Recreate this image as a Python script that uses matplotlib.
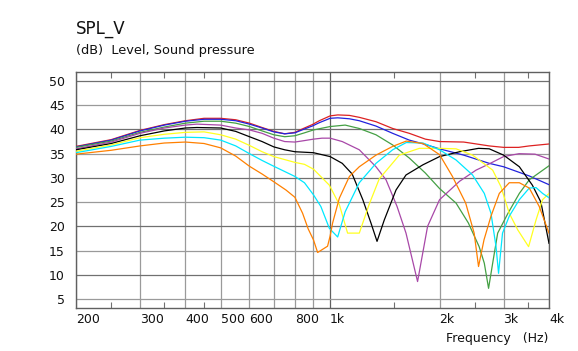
import matplotlib
matplotlib.use("Agg")
import matplotlib.pyplot as plt
from matplotlib.ticker import FixedLocator, NullFormatter

# ---- data (frequency in Hz, level in dB) ----
red_f = [200, 250, 300, 350, 400, 450, 500, 550, 600, 650, 700, 750, 800, 850, 893, 934, 1000, 1050,
         1130, 1203, 1337, 1486, 1651, 1828, 2000, 2330, 2740, 3000, 3300, 3530, 4000]
red_db = [36.5, 37.9, 39.8, 41.0, 41.8, 42.3, 42.3, 42.0, 41.3, 40.4, 39.6, 39.1, 39.4, 40.3, 41.0, 41.8, 42.8, 43.0,
          42.9, 42.5, 41.6, 40.2, 39.2, 38.0, 37.5, 37.4, 36.6, 36.3, 36.3, 36.6, 37.0]

blue_f = [200, 250, 300, 350, 400, 450, 500, 550, 600, 650, 700, 750, 800, 850, 893, 934, 1000, 1050,
          1130, 1203, 1337, 1486, 1651, 1828, 2000, 2330, 2740, 3000, 3530, 4000]
blue_db = [36.4, 37.8, 39.7, 40.9, 41.7, 42.1, 42.1, 41.8, 41.1, 40.3, 39.5, 39.1, 39.3, 40.1, 40.7, 41.4, 42.3, 42.4,
           42.2, 41.8, 40.7, 39.2, 37.8, 36.9, 36.0, 34.7, 33.0, 32.3, 30.4, 28.6]

green_f = [200, 250, 300, 350, 400, 450, 500, 550, 600, 650, 700, 750, 800, 850, 900, 1000, 1100, 1203,
           1337, 1486, 1651, 1828, 2000, 2220, 2400, 2570, 2655, 2728, 2800, 2890, 3085, 3315, 3530, 4000]
green_db = [36.3, 37.6, 39.4, 40.5, 41.3, 41.7, 41.7, 41.3, 40.6, 39.7, 38.9, 38.5, 38.7, 39.3, 39.9, 40.6, 40.9, 40.2,
            38.9, 36.8, 34.1, 31.0, 27.8, 24.8, 20.7, 15.8, 12.4, 7.2, 12.4, 18.6, 22.7, 26.8, 29.6, 32.5]

purple_f = [200, 250, 300, 350, 400, 430, 500, 550, 600, 650, 700, 750, 800, 850, 900, 950, 1000, 1080,
            1203, 1337, 1425, 1528, 1617, 1740, 1854, 2000, 2270, 2520, 2740, 3000, 3310, 3660, 4000]
purple_db = [36.0, 37.4, 39.2, 40.3, 40.9, 41.1, 40.9, 40.3, 39.9, 39.2, 38.2, 37.5, 37.4, 37.7, 38.0, 38.2, 38.2, 37.5,
             35.8, 32.3, 29.6, 24.1, 18.6, 8.6, 20.0, 25.5, 29.3, 31.6, 32.9, 34.4, 35.0, 34.9, 33.9]

black_f = [200, 250, 300, 350, 400, 430, 500, 550, 600, 650, 700, 750, 800, 900, 1000, 1080, 1150, 1230,
           1295, 1346, 1409, 1518, 1617, 1800, 2000, 2270, 2560, 2740, 3000, 3315, 3600, 3800, 4000]
black_db = [35.8, 37.1, 38.7, 39.7, 40.3, 40.4, 40.3, 39.6, 38.5, 37.5, 36.4, 35.8, 35.4, 35.2, 34.4, 33.0, 30.8, 25.5,
            20.7, 16.9, 21.3, 27.5, 30.6, 32.7, 34.4, 35.4, 36.1, 36.0, 34.7, 32.3, 28.5, 25.0, 16.5]

yellow_f = [200, 250, 300, 350, 400, 450, 500, 550, 600, 650, 700, 800, 850, 900, 995, 1060, 1117, 1203,
            1280, 1365, 1550, 1760, 2000, 2220, 2465, 2800, 2950, 3110, 3280, 3515, 3684, 3840, 4000]
yellow_db = [35.5, 36.8, 38.3, 39.0, 39.4, 39.5, 38.9, 38.0, 36.7, 35.4, 34.4, 33.2, 32.8, 31.8, 28.5, 24.5, 18.6, 18.6,
             24.5, 29.8, 34.7, 36.1, 36.1, 36.0, 34.7, 31.6, 28.2, 22.7, 19.3, 15.8, 21.3, 25.5, 26.8]

cyan_f = [200, 250, 300, 350, 400, 450, 500, 550, 600, 650, 700, 800, 850, 900, 943, 995, 1049, 1100,
          1203, 1337, 1486, 1620, 1800, 2000, 2220, 2465, 2655, 2770, 2860, 2906, 2980, 3110, 3315, 3530, 3684, 3840, 4000]
cyan_db = [35.2, 36.5, 37.8, 38.2, 38.4, 38.3, 37.8, 36.6, 35.0, 33.6, 32.4, 30.3, 29.0, 26.5, 24.1, 19.6, 17.8, 23.0,
           29.0, 33.0, 35.8, 37.3, 37.2, 35.8, 33.7, 30.6, 26.8, 22.7, 15.8, 10.3, 18.6, 22.1, 25.5, 27.9, 28.0, 26.8, 25.9]

orange_f = [200, 250, 300, 350, 400, 450, 500, 550, 600, 650, 700, 756, 800, 840, 870, 900, 924, 984,
            1000, 1016, 1060, 1130, 1203, 1337, 1486, 1620, 1800, 2000, 2170, 2360, 2490, 2560, 2650, 2770,
            2920, 3110, 3315, 3530, 3760, 4000]
orange_db = [34.9, 35.7, 36.6, 37.2, 37.4, 37.1, 36.2, 34.5, 32.4, 30.8, 29.2, 27.5, 26.0, 22.7, 19.5, 17.2, 14.6, 15.9,
             18.0, 20.7, 25.8, 30.3, 32.3, 34.7, 36.5, 37.6, 37.1, 34.8, 30.3, 24.8, 18.6, 11.7, 17.2, 22.1,
             26.8, 29.0, 29.0, 27.9, 24.1, 18.6]

series = [
    (red_f, red_db, "#dd2222"),
    (blue_f, blue_db, "#2222dd"),
    (green_f, green_db, "#44a044"),
    (purple_f, purple_db, "#a848a8"),
    (black_f, black_db, "#000000"),
    (yellow_f, yellow_db, "#ffff20"),
    (cyan_f, cyan_db, "#00e8ff"),
    (orange_f, orange_db, "#ff8000"),
]

x_ticks = [200, 300, 400, 500, 600, 700, 800, 900, 1000, 2000, 3000, 4000]
x_labels = ["200", "300", "400", "500", "600", "", "800", "", "1k", "2k", "3k", "4k"]
x_minor = [250, 350, 450, 1500, 2500, 3500]
y_ticks = [5, 10, 15, 20, 25, 30, 35, 40, 45, 50]

# ---- figure ----
fig = plt.figure(figsize=(5.78, 3.51), dpi=100)
ax = fig.add_axes([76 / 578, 1 - 308 / 351, (549 - 76) / 578, (308 - 72) / 351])

for f, db, c in series:
    ax.plot(f, db, color=c, lw=0.9, zorder=3)

ax.set_xscale("log")
ax.set_xlim(200, 4000)
ax.set_ylim(3.14, 51.86)

ax.xaxis.set_major_locator(FixedLocator(x_ticks))
ax.set_xticklabels(x_labels)
ax.xaxis.set_minor_locator(FixedLocator(x_minor))
ax.xaxis.set_minor_formatter(NullFormatter())
ax.yaxis.set_major_locator(FixedLocator(y_ticks))
ax.set_yticklabels([str(v) for v in y_ticks])

ax.tick_params(axis="x", which="major", length=0, pad=3.5, labelsize=9, labelcolor="#111111")
ax.tick_params(axis="x", which="minor", direction="in", length=4, top=True, bottom=True,
               color="#707070", width=0.8)
ax.tick_params(axis="y", which="major", length=0, pad=8, labelsize=9, labelcolor="#111111")
for lbl in ax.get_xticklabels():
    lbl.set_ha("left")

ax.grid(True, which="major", color="#9a9a9a", lw=0.9, zorder=1)
for i, v in enumerate(x_ticks):
    if v == 1000:
        ax.get_xgridlines()[i].set_color("#606060")
for i, v in enumerate(y_ticks):
    if v % 10 == 0:
        ax.get_ygridlines()[i].set_color("#707070")

for s in ax.spines.values():
    s.set_color("#606060")
    s.set_linewidth(1.0)

fig.text(76 / 578, 1 - 34 / 351, "SPL_V", fontsize=12, ha="left", va="baseline", color="#111111")
fig.text(76 / 578, 1 - 54 / 351, "(dB)  Level, Sound pressure", fontsize=9.3, ha="left",
         va="baseline", color="#111111")
fig.text(548 / 578, 1 - 342 / 351, "Frequency   (Hz)", fontsize=9, ha="right", va="baseline",
         color="#111111")

fig.savefig("out.png", dpi=100)
